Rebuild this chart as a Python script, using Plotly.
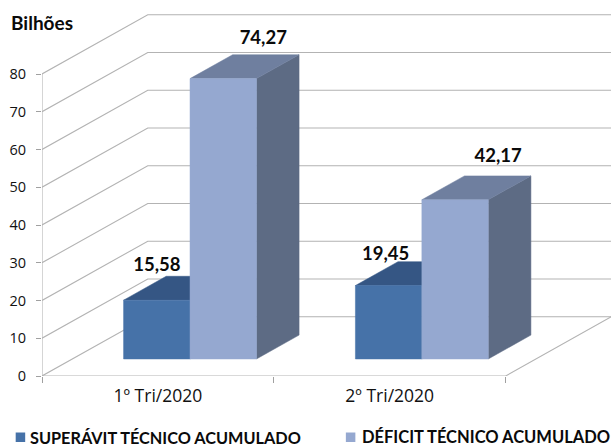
import plotly.graph_objects as go

# ---- data ----
categories = ["1º Tri/2020", "2º Tri/2020"]
superavit = [15.58, 19.45]
deficit = [74.27, 42.17]
value_labels_superavit = ["15,58", "19,45"]
value_labels_deficit = ["74,27", "42,17"]
y_ticks = [0, 10, 20, 30, 40, 50, 60, 70, 80]
series_names = ["SUPERÁVIT TÉCNICO ACUMULADO", "DÉFICIT TÉCNICO ACUMULADO"]

# ---- oblique projection (style geometry) ----
W, H = 611, 448
ML, MT, MB = 42.3, 14, 72
PX_CAT = 231.7      # pixels per category
PX_VAL = 3.775      # pixels per value unit
DEPTH_X = 105.7 / PX_CAT
DEPTH_Y = 59.3 / PX_VAL
BAR_START = 0.221
BAR_W = 0.2866
Z0, Z1 = 0.287, 0.69


def proj(x, v, z=0.0):
    return x + z * DEPTH_X, v + z * DEPTH_Y


def poly(points, color, name):
    xs, ys = zip(*points)
    return go.Scatter(x=list(xs) + [xs[0]], y=list(ys) + [ys[0]], mode="lines", fill="toself",
                      fillcolor=color, line=dict(color=color, width=0.5), name=name,
                      hoverinfo="name", showlegend=False)


def line(points, color="#b3b3b3", width=1.1):
    xs, ys = zip(*points)
    return go.Scatter(x=list(xs), y=list(ys), mode="lines", line=dict(color=color, width=width),
                      hoverinfo="skip", showlegend=False, cliponaxis=False)


def box(x0, x1, v, front, top, side, name):
    return [
        poly([proj(x1, 0, Z0), proj(x1, 0, Z1), proj(x1, v, Z1), proj(x1, v, Z0)], side, name),
        poly([proj(x0, v, Z0), proj(x1, v, Z0), proj(x1, v, Z1), proj(x0, v, Z1)], top, name),
        poly([proj(x0, 0, Z0), proj(x1, 0, Z0), proj(x1, v, Z0), proj(x0, v, Z0)], front, name),
    ]


fig = go.Figure()

# walls and floor
n = len(categories)
for t in y_ticks:
    fig.add_trace(line([proj(0, t), proj(0, t, 1), proj(n + 0.46 - DEPTH_X, t, 1)]))
fig.add_trace(line([proj(0, 0), proj(n, 0), proj(n, 0, 1)]))
fig.add_trace(line([proj(0, 0), proj(0, max(y_ticks))]))

# bars
for i in range(n):
    a = i + BAR_START
    for tr in box(a, a + BAR_W, superavit[i], "#4672A8", "#355684", "#2f4d77", series_names[0]):
        fig.add_trace(tr)
    for tr in box(a + BAR_W, a + 2 * BAR_W, deficit[i], "#95A8D0", "#6F7F9F", "#5D6B84", series_names[1]):
        fig.add_trace(tr)

# value labels (hand-placed in the source chart, offsets in pixels from the bar's front centre/top)
label_shift_s = [(0, 34), (-3, 30)]
label_shift_d = [(40, 39.5), (43, 42.5)]
for i in range(n):
    a = i + BAR_START
    for off, vals, txt, dxy in ((0, superavit, value_labels_superavit, label_shift_s),
                                (1, deficit, value_labels_deficit, label_shift_d)):
        cx, cy = proj(a + (off + 0.5) * BAR_W + dxy[i][0] / PX_CAT, vals[i] + dxy[i][1] / PX_VAL, Z0)
        fig.add_trace(go.Scatter(x=[cx], y=[cy], mode="text", text=[txt[i]], textposition="middle center",
                                 textfont=dict(family="Lato", size=18.5, color="#0a0a0a", weight="bold"),
                                 hoverinfo="skip", showlegend=False))

fig.update_layout(
    width=W, height=H, margin=dict(l=ML, r=0, t=MT, b=MB, pad=0),
    paper_bgcolor="white", plot_bgcolor="white", showlegend=False,
    xaxis=dict(range=[0, (W - ML) / PX_CAT], showgrid=False, zeroline=False, showline=False,
               tickmode="array", tickvals=[0.5, 1.5], ticktext=categories, ticks="",
               tickfont=dict(family="Open Sans", size=17.5, color="#111111"), ticklabelstandoff=7,
               minor=dict(tickmode="array", tickvals=[0, 1, 2], ticks="outside", ticklen=6,
                          tickcolor="#a0a0a0", tickwidth=1, showgrid=False)),
    yaxis=dict(range=[0, (H - MT - MB) / PX_VAL], showgrid=False, zeroline=False, showline=False,
               tickmode="array", tickvals=y_ticks, ticks="outside", ticklen=5, tickcolor="#a0a0a0",
               tickwidth=1, tickfont=dict(family="Open Sans", size=14.5, color="#111111"),
               ticklabelstandoff=7),
    annotations=[
        dict(text="<b>Bilhões</b>", xref="paper", yref="paper", x=-ML / (W - ML), y=1 - (23 - MT) / (H - MT - MB),
             xshift=9, xanchor="left", yanchor="middle", showarrow=False,
             font=dict(family="Lato", size=19, color="#0a0a0a")),
        dict(text="<b>%s</b>" % series_names[0], xref="paper", yref="paper", x=(28.5 - ML) / (W - ML),
             y=1 - (437 - MT) / (H - MT - MB), xanchor="left", yanchor="middle", showarrow=False,
             font=dict(family="Lato", size=16.3, color="#0a0a0a")),
        dict(text="<b>%s</b>" % series_names[1], xref="paper", yref="paper", x=(360 - ML) / (W - ML),
             y=1 - (437 - MT) / (H - MT - MB), xanchor="left", yanchor="middle", showarrow=False,
             font=dict(family="Lato", size=16.5, color="#0a0a0a")),
    ],
    shapes=[
        dict(type="rect", xref="paper", yref="paper", x0=(16 - ML) / (W - ML), x1=(25.5 - ML) / (W - ML),
             y0=1 - (442 - MT) / (H - MT - MB), y1=1 - (432.5 - MT) / (H - MT - MB),
             fillcolor="#4672A8", line=dict(width=0)),
        dict(type="rect", xref="paper", yref="paper", x0=(346 - ML) / (W - ML), x1=(355.5 - ML) / (W - ML),
             y0=1 - (442 - MT) / (H - MT - MB), y1=1 - (432.5 - MT) / (H - MT - MB),
             fillcolor="#95A8D0", line=dict(width=0)),
    ],
)

fig.write_html("out.html", config={"displayModeBar": False},
               post_script="document.body.style.margin='0';document.documentElement.style.overflow='hidden';")
